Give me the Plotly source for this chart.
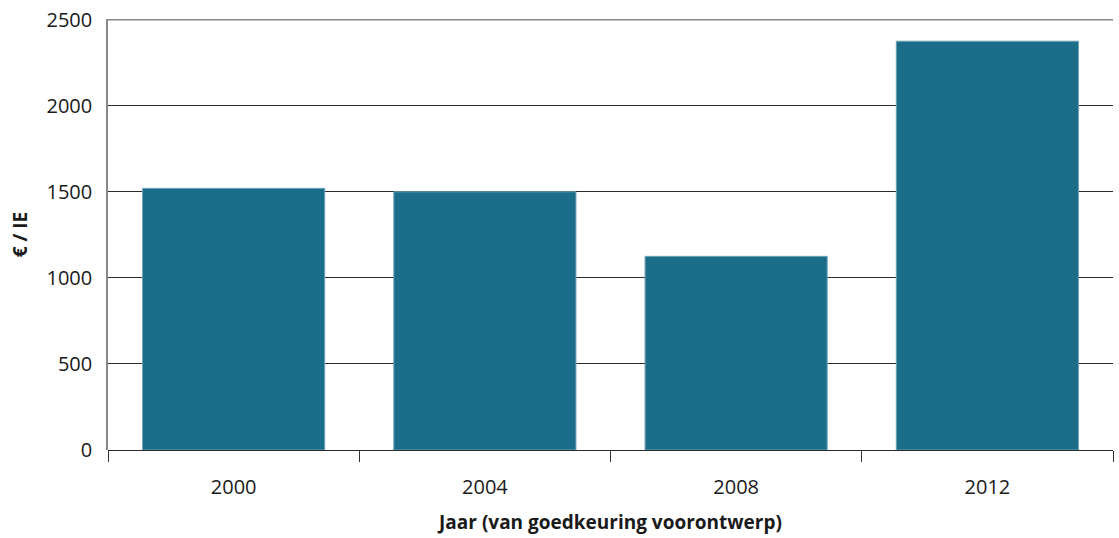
import plotly.graph_objects as go

# data
jaren = ["2000", "2004", "2008", "2012"]
kost_per_ie = [1520, 1500, 1125, 2375]
y_ticks = [0, 500, 1000, 1500, 2000, 2500]

fig = go.Figure()

fig.add_trace(go.Bar(
    x=jaren,
    y=kost_per_ie,
    marker=dict(color="#1b6d89", line=dict(color="#6fa3b6", width=1)),
    showlegend=False,
))

fig.update_layout(
    width=1119,
    height=538,
    margin=dict(l=108, r=6, t=19, b=88),
    plot_bgcolor="white",
    paper_bgcolor="white",
    bargap=0.275,
    font=dict(family="Open Sans, Noto Sans, sans-serif", size=20, color="#1a1a1a"),
)

# top frame line at the highest tick (plotly skips the gridline on the edge)
fig.add_shape(
    type="line", xref="paper", yref="y",
    x0=0, x1=1, y0=y_ticks[-1], y1=y_ticks[-1],
    line=dict(color="#888", width=1.5),
)

fig.update_xaxes(
    type="category",
    automargin=False,
    tickson="boundaries",
    ticks="outside",
    ticklen=11,
    tickcolor="#333",
    tickwidth=1,
    showline=False,
    showgrid=False,
    title=dict(text="<b>Jaar (van goedkeuring voorontwerp)</b>", font=dict(size=19), standoff=16),
    ticklabelstandoff=23,
)

fig.update_yaxes(
    range=[0, 2504],
    automargin=False,
    tickvals=y_ticks,
    showgrid=True,
    gridcolor="#2a2a2a",
    gridwidth=1,
    zeroline=True,
    zerolinecolor="#2a2a2a",
    zerolinewidth=1,
    showline=True,
    linecolor="#888",
    linewidth=1.5,
    ticks="",
    ticklabelstandoff=10,
    title=dict(text="<b>€ / IE</b>", font=dict(size=19), standoff=14),
)

# drop the default 8px page margin so the figure sits at the window's corner
fig.write_html(
    "out.html",
    config=dict(displayModeBar=False),
    post_script="document.body.style.margin='0';",
)
